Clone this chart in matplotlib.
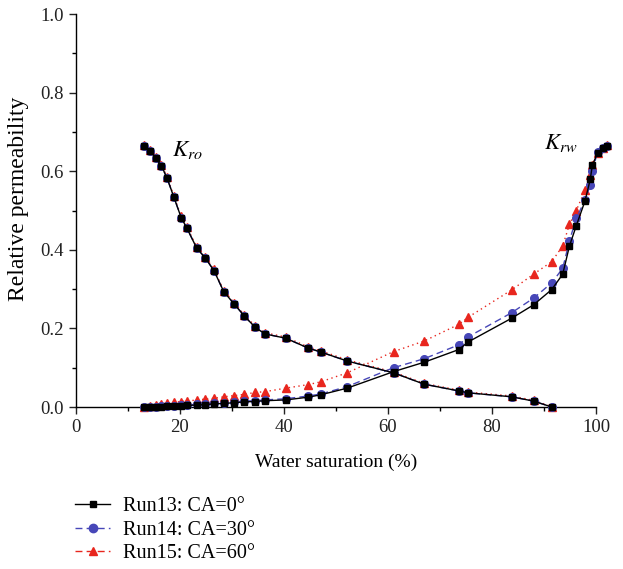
import matplotlib
matplotlib.use("Agg")
import matplotlib.pyplot as plt
from matplotlib.lines import Line2D
from matplotlib.ticker import MultipleLocator, FormatStrFormatter

plt.rcParams['font.family'] = ['Liberation Serif', 'DejaVu Serif']
plt.rcParams['mathtext.fontset'] = 'stix'

# Water saturation (%) shared by the runs
sw = [13.2, 14.4, 15.4, 16.5, 17.6, 18.9, 20.3, 21.4, 23.3, 24.9, 26.6, 28.5,
      30.5, 32.4, 34.5, 36.4, 40.4, 44.7, 47.1, 52.2, 61.1, 67.0, 73.6, 75.5,
      83.8, 88.0, 91.5, 93.6, 94.9, 96.2, 97.9, 98.9, 99.3, 100.3, 101.3, 102.1]

# Oil relative permeability (ends at Sw = 91.5)
kro_run13 = [0.665, 0.652, 0.633, 0.614, 0.582, 0.534, 0.482, 0.455, 0.404, 0.380,
             0.347, 0.293, 0.262, 0.232, 0.203, 0.186, 0.175, 0.150, 0.140, 0.117,
             0.087, 0.058, 0.041, 0.036, 0.026, 0.015, 0.000]
kro_run14 = [0.665, 0.652, 0.633, 0.614, 0.582, 0.534, 0.482, 0.455, 0.404, 0.380,
             0.347, 0.293, 0.262, 0.232, 0.203, 0.186, 0.175, 0.150, 0.140, 0.117,
             0.087, 0.058, 0.041, 0.036, 0.026, 0.015, 0.000]
kro_run15 = [0.667, 0.655, 0.636, 0.617, 0.585, 0.537, 0.485, 0.458, 0.407, 0.383,
             0.350, 0.296, 0.265, 0.235, 0.206, 0.189, 0.178, 0.153, 0.143, 0.120,
             0.089, 0.060, 0.043, 0.038, 0.028, 0.017, 0.001]

# Water relative permeability
krw_run13 = [0.000, 0.000, 0.001, 0.001, 0.002, 0.002, 0.003, 0.004, 0.005, 0.006,
             0.008, 0.009, 0.011, 0.013, 0.014, 0.016, 0.018, 0.025, 0.031, 0.048,
             0.090, 0.114, 0.146, 0.166, 0.226, 0.260, 0.299, 0.338, 0.410, 0.461,
             0.525, 0.580, 0.616, 0.646, 0.658, 0.665]
krw_run14 = [0.000, 0.001, 0.001, 0.002, 0.002, 0.003, 0.004, 0.005, 0.007, 0.008,
             0.009, 0.011, 0.013, 0.015, 0.016, 0.018, 0.021, 0.028, 0.033, 0.052,
             0.100, 0.123, 0.158, 0.179, 0.240, 0.277, 0.316, 0.353, 0.423, 0.480,
             0.527, 0.565, 0.600, 0.650, 0.660, 0.665]
krw_run15 = [0.001, 0.003, 0.006, 0.008, 0.010, 0.012, 0.014, 0.015, 0.018, 0.020,
             0.022, 0.026, 0.029, 0.032, 0.037, 0.039, 0.048, 0.057, 0.064, 0.087,
             0.141, 0.168, 0.210, 0.229, 0.298, 0.338, 0.370, 0.410, 0.465, 0.500,
             0.552, 0.590, 0.615, 0.646, 0.658, 0.667]

labels = ["Run13: CA=0°", "Run14: CA=30°", "Run15: CA=60°"]
colors = ["black", "#4747b8", "#e8261e"]

fig = plt.figure(figsize=(6.23, 5.69), dpi=100)
ax = fig.add_axes([0.1212, 0.2847, 0.8355, 0.6906])

n_o = len(kro_run13)
styles = [
    (kro_run15, krw_run15, colors[2], (0, (1, 2.5)), '^', 5.5, 2),
    (kro_run14, krw_run14, colors[1], (0, (5, 3)), 'o', 5.5, 3),
    (kro_run13, krw_run13, colors[0], '-', 's', 4.5, 4),
]
for kro, krw, c, ls, mk, ms, z in styles:
    ax.plot(sw[:n_o], kro, color=c, ls=ls, lw=1.0, marker=mk, ms=ms,
            mec=c, mfc=c, zorder=z, clip_on=False)
    ax.plot(sw, krw, color=c, ls=ls, lw=1.0, marker=mk, ms=ms,
            mec=c, mfc=c, zorder=z, clip_on=False)

ax.set_xlim(0, 100)
ax.set_ylim(0, 1.0)
ax.xaxis.set_major_locator(MultipleLocator(20))
ax.xaxis.set_minor_locator(MultipleLocator(10))
ax.yaxis.set_major_locator(MultipleLocator(0.2))
ax.yaxis.set_minor_locator(MultipleLocator(0.1))
ax.yaxis.set_major_formatter(FormatStrFormatter('%.1f'))
ax.tick_params(which='major', direction='out', length=5, width=1, labelsize=13.5,
               colors='#222222')
ax.tick_params(which='minor', direction='out', length=3, width=1)
for s in ['top', 'right']:
    ax.spines[s].set_visible(False)
for s in ['left', 'bottom']:
    ax.spines[s].set_linewidth(1.0)

ax.set_xlabel("Water saturation (%)", fontsize=14, labelpad=13)
ax.set_ylabel("Relative permeability", fontsize=17)
ax.yaxis.set_label_coords(-0.089, 0.53)

ax.text(18.5, 0.655, r"$K_{ro}$", fontsize=16.5, ha='left', va='center')
ax.text(90.0, 0.672, r"$K_{rw}$", fontsize=16.5, ha='left', va='center')

handles = [
    Line2D([], [], color=colors[0], ls='-', lw=1.0, marker='s', ms=5),
    Line2D([], [], color=colors[1], ls=(0, (5, 3)), lw=1.0, marker='o', ms=6),
    Line2D([], [], color=colors[2], ls=(0, (5, 3)), lw=1.0, marker='^', ms=6),
]
fig.legend(handles, labels, loc='upper left',
           bbox_to_anchor=(75 / 623, 1 - 497 / 569),
           bbox_transform=fig.transFigure, frameon=False, fontsize=14.5,
           handlelength=1.75, handletextpad=0.65, labelspacing=0.22,
           borderaxespad=0, borderpad=0)

fig.savefig("out.png", dpi=100)
